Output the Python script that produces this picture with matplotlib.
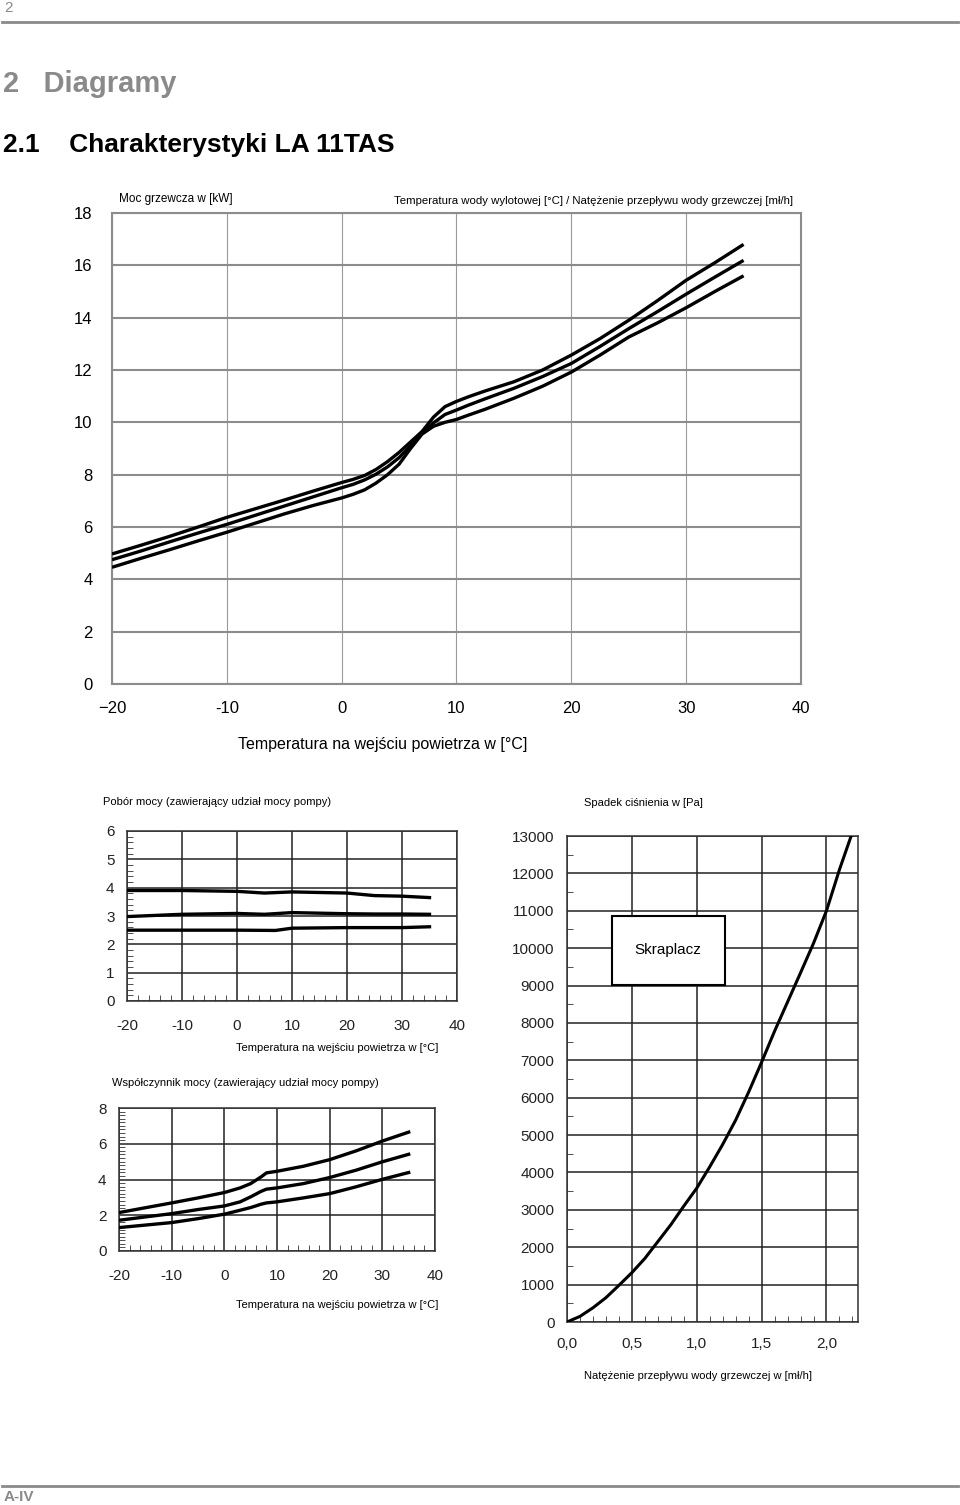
import matplotlib
matplotlib.use("Agg")
import matplotlib.pyplot as plt
from matplotlib.patches import Rectangle
from matplotlib.ticker import MultipleLocator

plt.rcParams["font.family"] = ["Liberation Sans", "DejaVu Sans"]
plt.rcParams["axes.unicode_minus"] = False

# --- main chart: Moc grzewcza [kW] vs air inlet temperature ---
main_temp = [-20, -17.5, -15, -12.5, -10, -7.5, -5, -2.5, 0, 1, 2, 3, 4, 5, 6, 7, 8, 9,
             10, 11, 12.5, 15, 17.5, 20, 22.5, 25, 27.5, 30, 32.5, 35]
main_top = [4.97, 5.30, 5.64, 6.00, 6.37, 6.70, 7.03, 7.37, 7.70, 7.82, 7.97, 8.20, 8.50,
            8.85, 9.25, 9.65, 10.20, 10.60, 10.80, 10.97, 11.20, 11.55, 12.00, 12.57,
            13.20, 13.90, 14.65, 15.43, 16.10, 16.80]
main_mid = [4.75, 5.08, 5.43, 5.77, 6.10, 6.45, 6.80, 7.15, 7.50, 7.63, 7.80, 8.02, 8.30,
            8.65, 9.10, 9.60, 9.98, 10.30, 10.47, 10.65, 10.90, 11.30, 11.75, 12.25,
            12.90, 13.58, 14.23, 14.90, 15.55, 16.19]
main_bot = [4.46, 4.80, 5.13, 5.47, 5.80, 6.15, 6.50, 6.82, 7.11, 7.25, 7.42, 7.68, 8.00,
            8.40, 9.00, 9.55, 9.85, 10.00, 10.11, 10.27, 10.50, 10.92, 11.38, 11.92,
            12.57, 13.26, 13.80, 14.38, 15.00, 15.60]
main_xticks = [-20, -10, 0, 10, 20, 30, 40]
main_xlabels = ["\u221220", "-10", "0", "10", "20", "30", "40"]
main_yticks = [0, 2, 4, 6, 8, 10, 12, 14, 16, 18]

# --- power consumption [kW] ---
pwr_temp = [-20, -10, 0, 5, 10, 20, 25, 30, 35]
pwr_top = [3.90, 3.90, 3.87, 3.81, 3.85, 3.81, 3.72, 3.70, 3.65]
pwr_mid = [2.98, 3.06, 3.09, 3.06, 3.12, 3.08, 3.07, 3.07, 3.06]
pwr_bot_temp = [-20, 0, 7, 10, 20, 30, 35]
pwr_bot = [2.50, 2.50, 2.49, 2.57, 2.59, 2.59, 2.62]

# --- COP ---
cop_temp = [-20, -10, -5, 0, 3, 5, 7, 8, 10, 15, 20, 25, 30, 35]
cop_top = [2.15, 2.69, 2.97, 3.27, 3.53, 3.77, 4.15, 4.37, 4.46, 4.74, 5.11, 5.60, 6.15, 6.65]
cop_mid = [1.72, 2.09, 2.32, 2.52, 2.75, 3.03, 3.34, 3.46, 3.53, 3.77, 4.11, 4.52, 4.99, 5.41]
cop_bot = [1.31, 1.59, 1.81, 2.06, 2.28, 2.43, 2.62, 2.69, 2.75, 2.97, 3.21, 3.59, 4.01, 4.39]

# --- pressure drop [Pa] vs flow ---
flow = [0.0, 0.1, 0.2, 0.3, 0.4, 0.5, 0.6, 0.7, 0.8, 0.9, 1.0, 1.1, 1.2, 1.3,
        1.4, 1.5, 1.6, 1.7, 1.8, 1.9, 2.0, 2.1, 2.2]
dp = [0, 150, 380, 650, 980, 1320, 1700, 2150, 2600, 3100, 3580, 4150, 4750, 5400,
      6150, 6950, 7780, 8560, 9340, 10130, 11000, 12100, 13100]
flow_ticks = [0.0, 0.5, 1.0, 1.5, 2.0]
flow_labels = ["0,0", "0,5", "1,0", "1,5", "2,0"]

W, H = 960, 1505
fig = plt.figure(figsize=(W / 100, H / 100), dpi=100)


def px(x, y):
    return x / W, 1 - y / H


def add_ax(l, t, r, b):
    return fig.add_axes([l / W, 1 - b / H, (r - l) / W, (b - t) / H])


def txt(x, y, s, **kw):
    kw.setdefault("va", "center")
    fig.text(*px(x, y), s, **kw)


# page header / footer
grey = "#8a8a8a"
fig.add_artist(plt.Line2D([2 / W, 958 / W], [1 - 22 / H] * 2, color=grey, lw=2))
fig.add_artist(plt.Line2D([2 / W, 958 / W], [1 - 1486 / H] * 2, color=grey, lw=2))
txt(4, 8, "2", color=grey, fontsize=11)
txt(3, 84, "2   Diagramy", color=grey, fontsize=21, weight="bold")
txt(3, 145, "2.1    Charakterystyki LA 11TAS", color="black", fontsize=19, weight="bold")
txt(4, 1497, "A-IV", color=grey, fontsize=11, weight="bold")

# main chart
ax = add_ax(112, 213, 801, 684)
for y in main_top, main_mid, main_bot:
    ax.plot(main_temp, y, color="black", lw=2.4, solid_capstyle="butt",
            solid_joinstyle="round", zorder=3)
ax.set_xlim(-20, 40)
ax.set_ylim(0, 18)
ax.set_xticks(main_xticks)
ax.set_xticklabels(main_xlabels, fontsize=12)
ax.set_yticks(main_yticks)
ax.set_yticklabels([str(v) for v in main_yticks], fontsize=12)
ax.tick_params(length=0, pad=12)
ax.tick_params(axis="y", pad=14)
ax.grid(axis="y", color="#8c8c8c", lw=1.5)
ax.grid(axis="x", color="#9a9a9a", lw=0.8)
for s in ax.spines.values():
    s.set_color("#8c8c8c")
    s.set_linewidth(1.5)
txt(119, 199, "Moc grzewcza w [kW]", fontsize=8.5)
txt(793, 201, "Temperatura wody wylotowej [°C] / Natężenie przepływu wody grzewczej [mł/h]",
    fontsize=8.2, ha="right")
txt(383, 744, "Temperatura na wejściu powietrza w [°C]", fontsize=11.5, ha="center")


def small_style(a, xminor, yminor):
    a.xaxis.set_minor_locator(MultipleLocator(xminor))
    a.yaxis.set_minor_locator(MultipleLocator(yminor))
    a.tick_params(which="major", length=0, labelsize=11, labelcolor="#222222")
    a.tick_params(which="minor", length=4, direction="in", color="#333333")
    a.grid(which="major", color="#222222", lw=1.1)
    for s in a.spines.values():
        s.set_color("#333333")
        s.set_linewidth(1.1)


temp_ticks = [-20, -10, 0, 10, 20, 30, 40]

# power consumption
a1 = add_ax(127, 831, 457, 1001)
a1.plot(pwr_temp, pwr_top, color="black", lw=2.4, zorder=3)
a1.plot(pwr_temp, pwr_mid, color="black", lw=2.4, zorder=3)
a1.plot(pwr_bot_temp, pwr_bot, color="black", lw=2.4, zorder=3)
a1.set_xlim(-20, 40)
a1.set_ylim(0, 6)
a1.set_xticks(temp_ticks)
a1.set_yticks(range(0, 7))
small_style(a1, 2, 0.2)
a1.tick_params(axis="x", which="major", pad=13)
a1.tick_params(axis="y", which="major", pad=9)
txt(103, 802, "Pobór mocy (zawierający udział mocy pompy)", fontsize=8)
txt(236, 1048, "Temperatura na wejściu powietrza w [°C]", fontsize=8)

# COP
a2 = add_ax(119, 1108, 435, 1251)
for y in cop_top, cop_mid, cop_bot:
    a2.plot(cop_temp, y, color="black", lw=2.4, zorder=3)
a2.set_xlim(-20, 40)
a2.set_ylim(0, 8)
a2.set_xticks(temp_ticks)
a2.set_yticks([0, 2, 4, 6, 8])
small_style(a2, 2, 0.2)
a2.tick_params(axis="x", which="major", pad=13)
a2.tick_params(axis="y", which="major", pad=9)
txt(112, 1083, "Współczynnik mocy (zawierający udział mocy pompy)", fontsize=8)
txt(236, 1305, "Temperatura na wejściu powietrza w [°C]", fontsize=8)

# pressure drop
a3 = add_ax(567, 836, 858, 1322)
a3.plot(flow, dp, color="black", lw=2.2, zorder=3)
a3.set_xlim(0, 2.243)
a3.set_ylim(0, 13000)
a3.set_xticks(flow_ticks)
a3.set_xticklabels(flow_labels)
a3.set_yticks(range(0, 13001, 1000))
small_style(a3, 0.1, 500)
a3.tick_params(axis="x", which="major", pad=11)
a3.tick_params(axis="y", which="major", pad=9)
a3.add_patch(Rectangle((0.345, 9020), 0.87, 1840, facecolor="white",
                       edgecolor="black", lw=1.5, zorder=4))
a3.text(0.78, 9940, "Skraplacz", ha="center", va="center", fontsize=11, zorder=5)
txt(584, 803, "Spadek ciśnienia w [Pa]", fontsize=8)
txt(584, 1376, "Natężenie przepływu wody grzewczej w [mł/h]", fontsize=8)

fig.savefig("out.png", dpi=100)
